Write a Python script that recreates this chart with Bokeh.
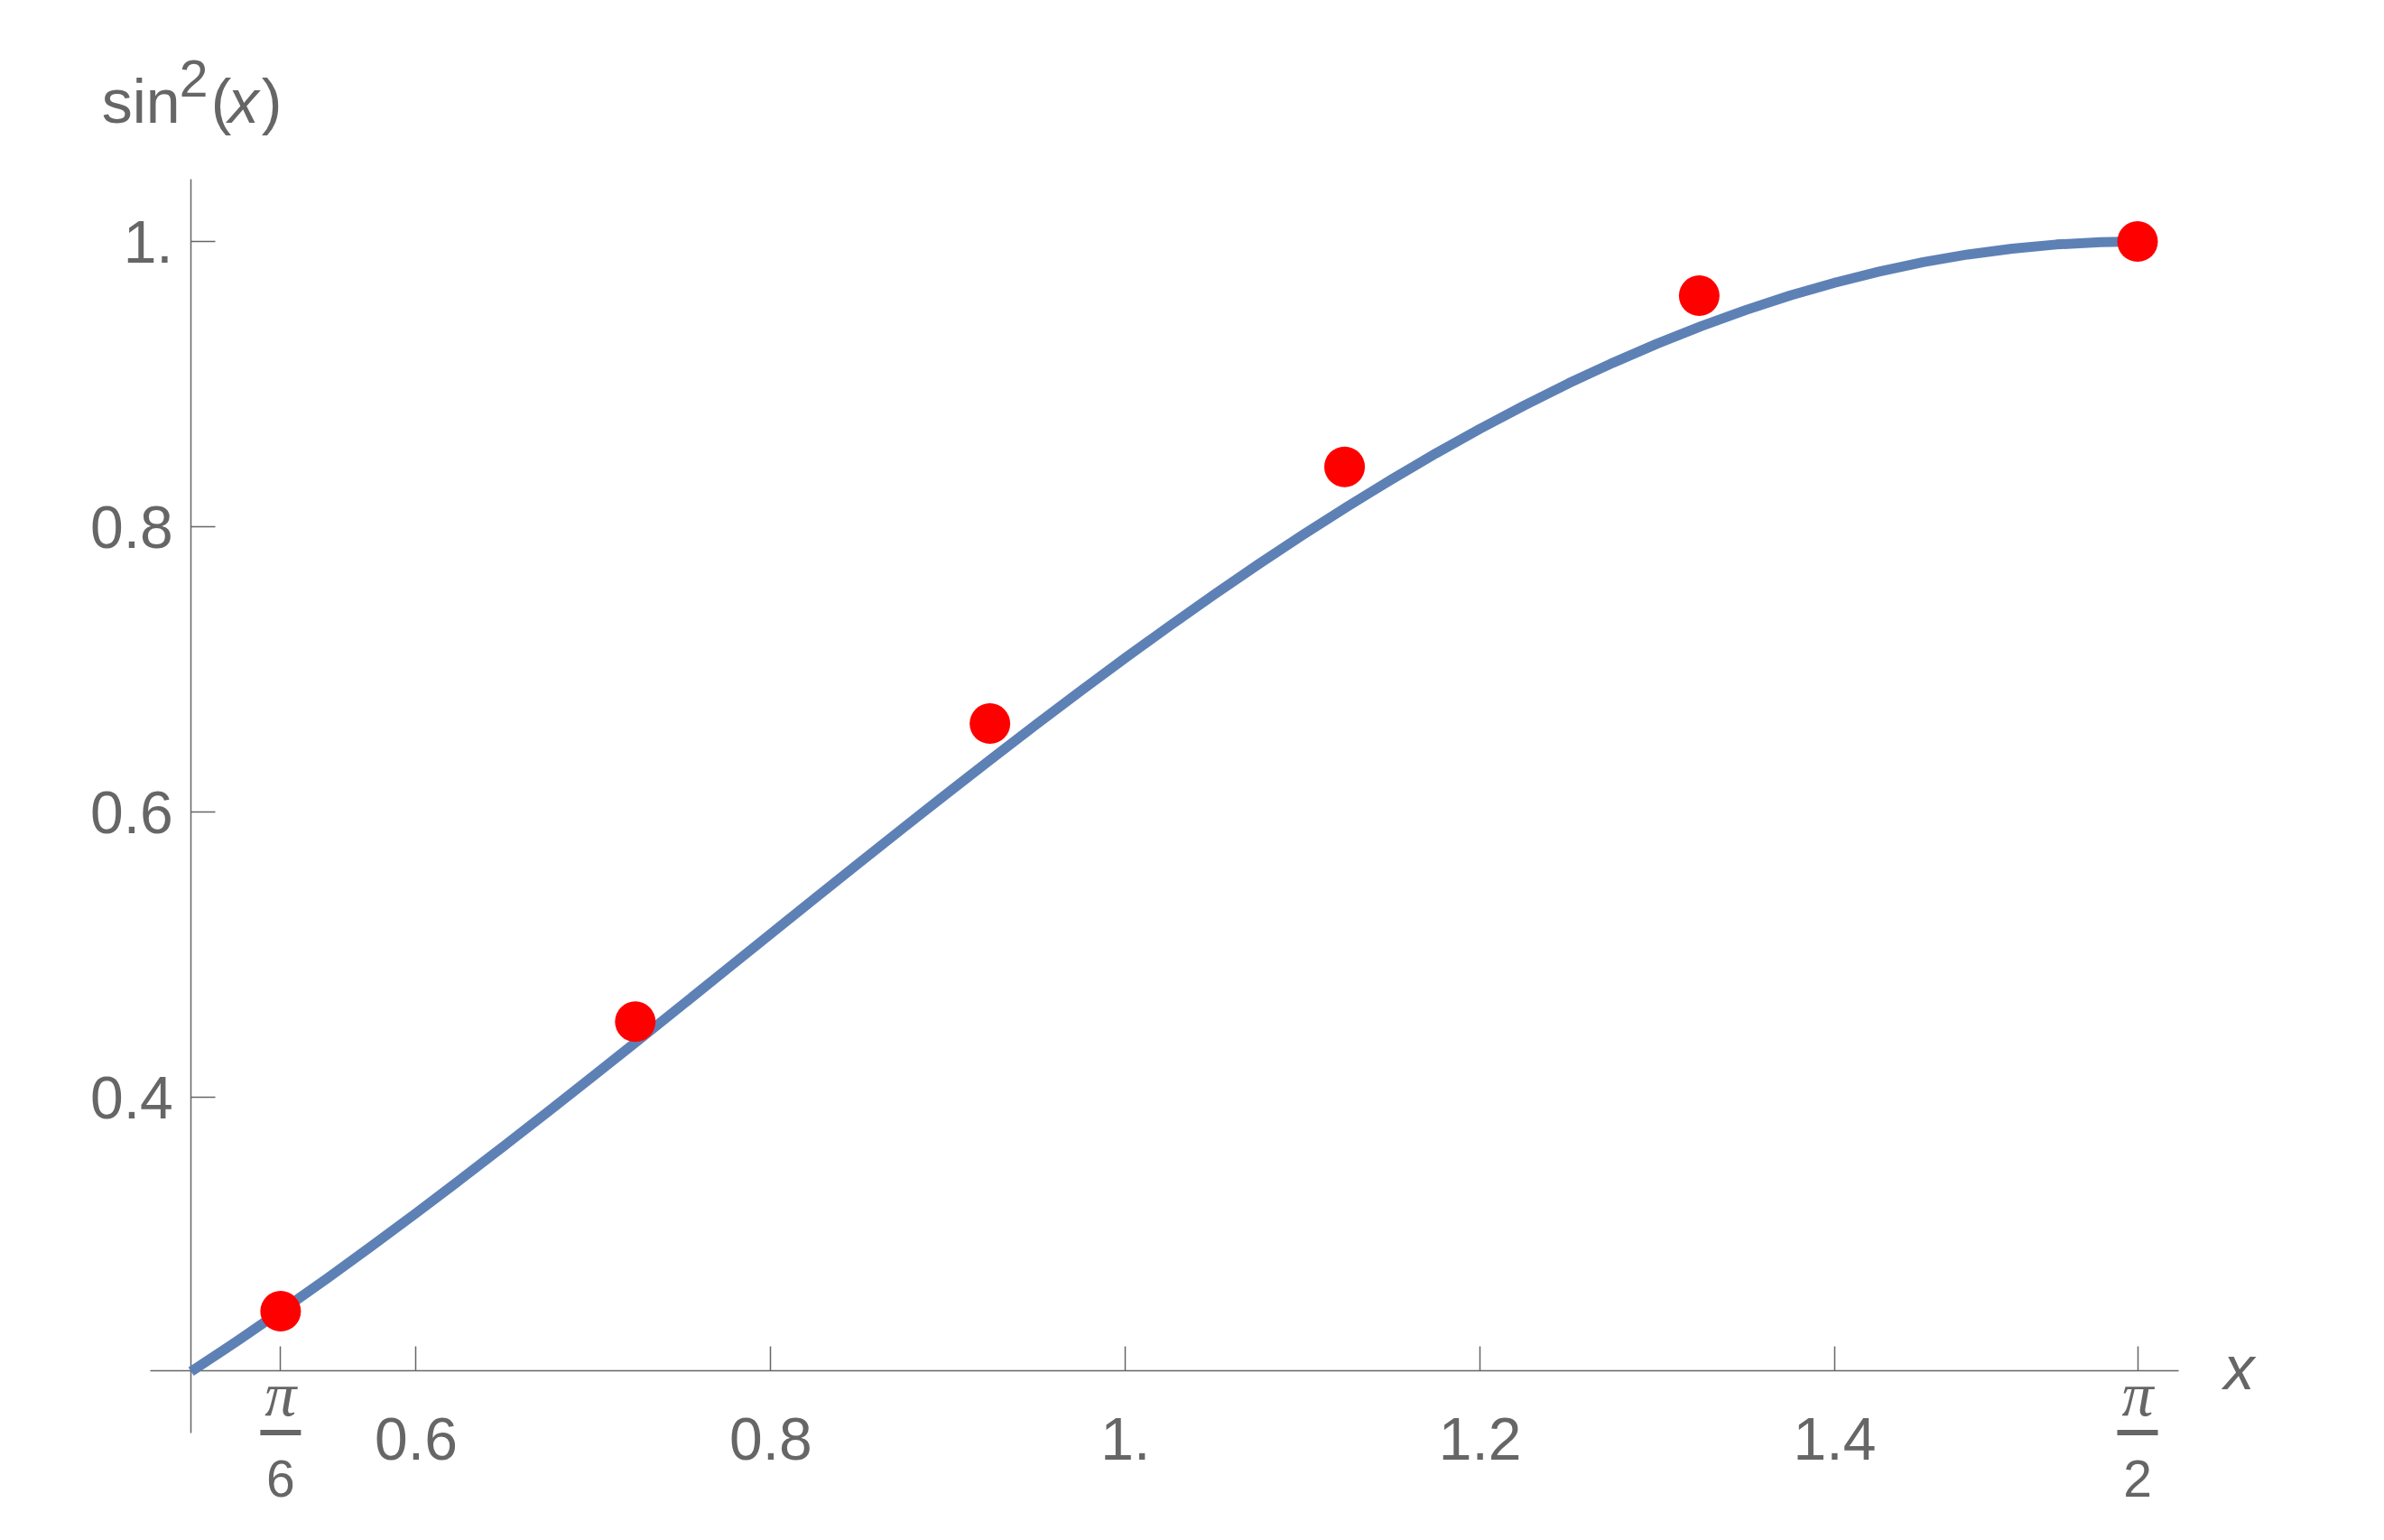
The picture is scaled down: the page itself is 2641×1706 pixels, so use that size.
from bokeh.plotting import figure
from bokeh.models import Range1d, FixedTicker, LinearAxis
from bokeh.core.properties import value
from bokeh.embed import file_html
from bokeh.resources import INLINE

# ---- data ----
curve_x = [0.4731, 0.500, 0.525, 0.550, 0.575, 0.600, 0.625, 0.650, 0.675, 0.700, 0.725,
           0.750, 0.775, 0.800, 0.825, 0.850, 0.875, 0.900, 0.925, 0.950, 0.975, 1.000,
           1.025, 1.050, 1.075, 1.100, 1.125, 1.150, 1.175, 1.200, 1.225, 1.250, 1.275,
           1.300, 1.325, 1.350, 1.375, 1.400, 1.425, 1.450, 1.475, 1.500, 1.525, 1.550,
           1.5708]
curve_y = [0.2077, 0.2298, 0.2512, 0.2732, 0.2958, 0.3188, 0.3423, 0.3663, 0.3905, 0.4150,
           0.4397, 0.4646, 0.4896, 0.5146, 0.5396, 0.5644, 0.5891, 0.6136, 0.6378, 0.6616,
           0.6851, 0.7081, 0.7305, 0.7524, 0.7737, 0.7943, 0.8141, 0.8331, 0.8514, 0.8687,
           0.8851, 0.9006, 0.9150, 0.9284, 0.9408, 0.9520, 0.9622, 0.9711, 0.9789, 0.9855,
           0.9909, 0.9950, 0.9979, 0.9996, 1.0000]

point_x = [0.5236, 0.7236, 0.9236, 1.1236, 1.3236, 1.5708]
point_y = [0.250, 0.453, 0.662, 0.842, 0.962, 1.000]

x_ticks = [0.5236, 0.6, 0.8, 1.0, 1.2, 1.4, 1.5708]
x_num_ticks = [0.6, 0.8, 1.0, 1.2, 1.4]
x_num_labels = ["0.6", "0.8", "1.", "1.2", "1.4"]
x_fraction_ticks = [0.5236, 1.5708]
x_fraction_num = ["π", "π"]
x_fraction_den = ["6", "2"]

y_ticks = [0.4, 0.6, 0.8, 1.0]
y_tick_labels = ["0.4", "0.6", "0.8", "1."]

X_MIN, X_MAX = 0.4501, 1.5939     # plot box of the reference
Y_MIN, Y_MAX = 0.1646, 1.0437
X0, Y0 = 0.4731, 0.2085           # where the axes cross

# ---- layout / styling ----
GRAY = "#666666"
FONT = "Liberation Sans"
PPX, PPY = 1964.4, 1580.0          # pixels per data unit
BOX_LEFT, BOX_TOP = 166, 198       # page position of the plot box
W, H = 2600, 1700
BASE_FIX = 0.38                    # text-box bottom lies this many ems below the baseline

def base_y(y, px_below, size_px):
    """data y of a text anchor whose ink baseline sits px_below pixels under y"""
    return y - (px_below - BASE_FIX * size_px) / PPY

xs = X_MIN - BOX_LEFT / PPX
yt = Y_MAX + BOX_TOP / PPY
p = figure(frame_width=W, frame_height=H,
           x_range=Range1d(xs, xs + W / PPX), y_range=Range1d(yt - H / PPY, yt),
           x_axis_type=None, y_axis_type=None,
           output_backend="svg", toolbar_location=None,
           min_border_left=0, min_border_top=0, min_border_right=0, min_border_bottom=0)
p.outline_line_color = None
p.background_fill_color = "white"
p.border_fill_color = "white"

def style_axis(ax):
    ax.axis_line_color = GRAY
    ax.axis_line_width = 1.5
    ax.major_tick_line_color = GRAY
    ax.major_tick_line_width = 1.5
    ax.major_tick_in = 27
    ax.major_tick_out = 0
    ax.minor_tick_in = 0
    ax.minor_tick_out = 0
    ax.major_label_text_color = None
    ax.major_label_text_font_size = "0px"
    ax.major_label_standoff = 0

xaxis = LinearAxis(fixed_location=Y0, bounds=(X_MIN, X_MAX),
                   ticker=FixedTicker(ticks=x_ticks), level="underlay")
style_axis(xaxis)
p.add_layout(xaxis, "below")

yaxis = LinearAxis(fixed_location=X0, bounds=(Y_MIN, Y_MAX),
                   ticker=FixedTicker(ticks=y_ticks), level="underlay")
style_axis(yaxis)
p.add_layout(yaxis, "left")

# curve and points
p.line(curve_x, curve_y, line_color="#5E81B5", line_width=11, line_cap="butt", line_join="round")
p.scatter(point_x, point_y, size=45, fill_color="#FF0000", line_color=None)

# x tick labels
p.text(x=x_num_ticks, y=[base_y(Y0, 101, 66)] * len(x_num_ticks), text=x_num_labels,
       text_align="center", text_baseline="alphabetic", text_font=value(FONT),
       text_font_size="66px", text_color=GRAY)

# fraction tick labels (pi/6, pi/2)
nf = len(x_fraction_ticks)
p.text(x=x_fraction_ticks, y=[base_y(Y0, 53, 70)] * nf, text=x_fraction_num,
       text_align="center", text_baseline="alphabetic", text_font=value("Liberation Serif"),
       text_font_style="italic", text_font_size="70px", text_color=GRAY)
p.rect(x=x_fraction_ticks, y=[Y0 - 69 / PPY] * nf, width=45, height=6,
       width_units="screen", height_units="screen", fill_color=GRAY, line_color=None)
p.text(x=x_fraction_ticks, y=[base_y(Y0, 142, 57)] * nf, text=x_fraction_den,
       text_align="center", text_baseline="alphabetic", text_font=value(FONT),
       text_font_size="57px", text_color=GRAY)

# y tick labels
p.text(x=[X0 - 20 / PPX] * len(y_ticks), y=[base_y(t, 26, 66) for t in y_ticks],
       text=y_tick_labels, text_align="right", text_baseline="alphabetic",
       text_font=value(FONT), text_font_size="66px", text_color=GRAY)

# x axis label
p.text(x=[X_MAX + 50 / PPX], y=[base_y(Y0, 23, 68)], text=["x"], text_align="left",
       text_baseline="alphabetic", text_font=value(FONT), text_font_style="italic",
       text_font_size="68px", text_color=GRAY)

# y axis label: sin^2(x)
ylab_parts = [("sin", -99, 61, "normal", 68),
              ("2", -13, 90, "normal", 57),
              ("(", 22, 61, "normal", 68),
              ("x", 41, 61, "italic", 68),
              (")", 78, 61, "normal", 68)]
for txt, ox, oy, style, size in ylab_parts:
    p.text(x=[X0 + ox / PPX], y=[base_y(Y_MAX, -oy, size)], text=[txt], text_align="left",
           text_baseline="alphabetic", text_font=value(FONT), text_font_style=style,
           text_font_size=f"{size}px", text_color=GRAY)

open("out.html", "w").write(file_html(p, INLINE))
